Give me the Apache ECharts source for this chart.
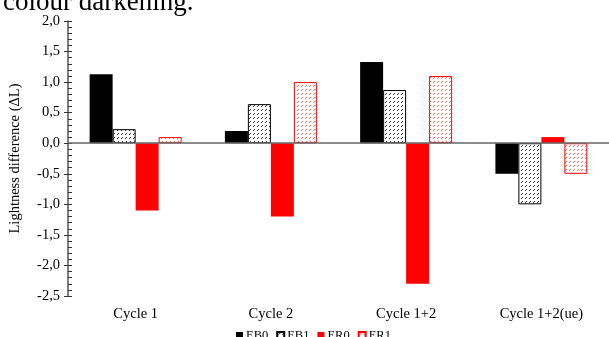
<!DOCTYPE html>
<html>
<head>
<meta charset="utf-8">
<script src="https://cdn.jsdelivr.net/npm/echarts@6/dist/echarts.min.js"></script>
<style>
  html, body { margin: 0; padding: 0; background: #fff; }
  #chart { width: 609px; height: 337px; }
</style>
</head>
<body>
<div id="chart"></div>
<script>
// Lightness difference per cleaning cycle
const categories = ['Cycle 1', 'Cycle 2', 'Cycle 1+2', 'Cycle 1+2(ue)'];
const seriesNames = ['EB0', 'EB1', 'ER0', 'ER1'];
const eb0 = [1.13, 0.20, 1.33, -0.50];
const eb1 = [0.23, 0.64, 0.87, -1.00];
const er0 = [-1.10, -1.20, -2.30, 0.10];
const er1 = [0.10, 1.00, 1.10, -0.50];
const headingText = 'colour darkening.';

const FONT = '"Liberation Serif", "Times New Roman", serif';

// small speckled fill used for the hatched bars
function speckle(color) {
  const c = document.createElement('canvas');
  c.width = 4; c.height = 4;
  const g = c.getContext('2d');
  g.fillStyle = '#fff';
  g.fillRect(0, 0, 4, 4);
  g.fillStyle = color;
  g.fillRect(1, 2, 1, 1);
  g.fillRect(2, 1, 1, 1);
  return { image: c, repeat: 'repeat' };
}

const chart = echarts.init(document.getElementById('chart'), null, { renderer: 'canvas' });

const styles = [
  { color: '#000000' },
  { color: speckle('#333333'), borderColor: '#000000', borderWidth: 1 },
  { color: '#ff0000' },
  { color: speckle('#ff6060'), borderColor: '#ff0000', borderWidth: 1 }
];
const values = [eb0, eb1, er0, er1];

const series = seriesNames.map((name, i) => ({
  name: name,
  type: 'bar',
  data: values[i],
  barGap: '0%',
  barCategoryGap: '32%',
  itemStyle: styles[i],
  emphasis: { disabled: true },
  animation: false
}));

// zero line across the plot
series[0].markLine = {
  silent: true,
  symbol: 'none',
  label: { show: false },
  lineStyle: { color: '#666', width: 1.5, type: 'solid' },
  data: [{ yAxis: 0 }],
  animation: false
};

const yCommon = {
  type: 'value',
  min: -2.5,
  max: 2.0,
  interval: 0.5,
  splitLine: { show: false }
};

chart.setOption({
  animation: false,
  backgroundColor: '#fff',
  grid: { left: 68, top: 21, width: 544, height: 275, containLabel: false },
  graphic: [{
    type: 'text',
    left: 3,
    top: -11,
    style: { text: headingText, font: '27px ' + FONT, fill: '#000' }
  }],
  legend: {
    data: seriesNames,
    left: 231,
    top: 324,
    icon: 'rect',
    itemWidth: 7,
    itemHeight: 7,
    itemGap: 8,
    textStyle: { fontFamily: FONT, fontSize: 12.5, color: '#000', padding: [0, 0, 0, -2] }
  },
  xAxis: {
    type: 'category',
    data: categories,
    axisLine: { show: false },
    axisTick: { show: false },
    axisLabel: { margin: 11, fontFamily: FONT, fontSize: 14.5, color: '#000' }
  },
  yAxis: [
    Object.assign({}, yCommon, {
      name: 'Lightness difference (\u0394L)',
      nameLocation: 'middle',
      nameGap: 45,
      nameTextStyle: { fontFamily: FONT, fontSize: 14.5, color: '#000' },
      axisLine: { show: true, lineStyle: { color: '#555', width: 1.5 } },
      axisTick: { show: true, length: 4, lineStyle: { color: '#333' } },
      axisLabel: {
        margin: 8,
        fontFamily: FONT,
        fontSize: 14.5,
        color: '#000',
        formatter: v => v.toFixed(1).replace('.', ',')
      }
    }),
    Object.assign({}, yCommon, {
      position: 'left',
      axisLine: { show: false },
      axisLabel: { show: false },
      axisTick: { show: true, inside: true, length: 4, lineStyle: { color: '#333' } },
      minorTick: { show: true, splitNumber: 5, length: 4, lineStyle: { color: '#333' } }
    })
  ],
  series: series
});
</script>
</body>
</html>
